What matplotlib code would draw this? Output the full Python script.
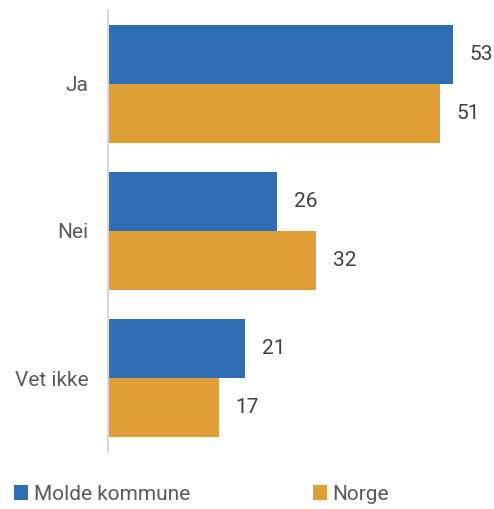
import matplotlib.pyplot as plt
import numpy as np

# Data
categories = ['Ja', 'Nei', 'Vet ikke']
molde = [53, 26, 21]
norge = [51, 32, 17]
series_names = ['Molde kommune', 'Norge']
colors = ['#2E6EB5', '#E09E36']

plt.rcParams['font.family'] = ['Roboto', 'DejaVu Sans']

fig = plt.figure(figsize=(4.94, 5.09), dpi=100)
ax = fig.add_axes([108 / 494, 57 / 509, 390 / 494, 442 / 509])

y = np.arange(len(categories))
h = 0.4
b1 = ax.barh(y - h / 2, molde, height=h, color=colors[0], label=series_names[0])
b2 = ax.barh(y + h / 2, norge, height=h, color=colors[1], label=series_names[1])

# value labels
for bars, vals in [(b1, molde), (b2, norge)]:
    for bar, v in zip(bars, vals):
        ax.annotate(str(v), (bar.get_width(), bar.get_y() + bar.get_height() / 2),
                    xytext=(17, 0), textcoords='offset pixels',
                    va='center', ha='left', fontsize=15, color='#404040')

ax.set_ylim(2.5, -0.5)
ax.set_xlim(0, 60)
ax.set_yticks(y)
ax.set_yticklabels(categories, fontsize=15, color='#595959')
ax.tick_params(axis='y', length=0, pad=14)
ax.set_xticks([])

for s in ['top', 'right', 'bottom']:
    ax.spines[s].set_visible(False)
ax.spines['left'].set_color('#D9D9D9')
ax.spines['left'].set_linewidth(1.5)

leg = fig.legend(loc='lower left', bbox_to_anchor=(0.011, -0.006), ncol=2, frameon=False,
                 fontsize=15, handlelength=0.7, handleheight=0.7, handletextpad=0.25,
                 columnspacing=5.9, borderaxespad=0)
for t in leg.get_texts():
    t.set_color('#595959')

fig.savefig('out.png', dpi=100)
